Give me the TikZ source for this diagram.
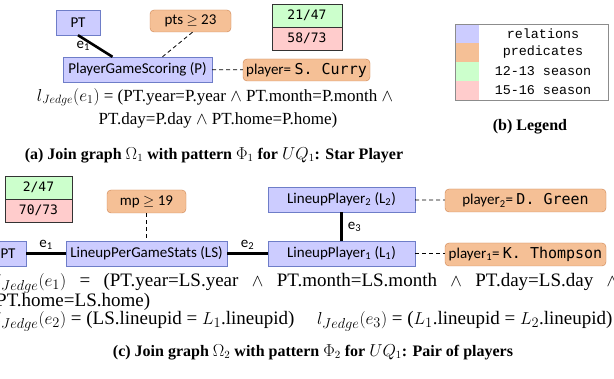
\documentclass[tikz,border=0pt]{standalone}
\usepackage{fontspec}
\setmainfont{Liberation Serif}
\setsansfont{Carlito}
\setmonofont{DejaVu Sans Mono}
\newfontfamily\legendfont{Liberation Mono}
\definecolor{relfill}{RGB}{204,204,255}
\definecolor{reldraw}{RGB}{110,125,200}
\definecolor{predfill}{RGB}{245,192,150}
\definecolor{preddraw}{RGB}{205,130,80}
\definecolor{goodfill}{RGB}{204,255,204}
\definecolor{badfill}{RGB}{255,204,204}
\tikzset{
  rel/.style={draw=reldraw,fill=relfill,minimum height=25,inner sep=1,
    font=\sffamily\fontsize{15}{17}\selectfont},
  pred/.style={draw=preddraw,fill=predfill,rounded corners=4,minimum height=22,inner sep=1,
    font=\sffamily\fontsize{15}{17}\selectfont},
  stat/.style={draw=black!80,minimum width=70,minimum height=23,inner sep=1,
    font=\ttfamily\fontsize{13}{15}\selectfont},
  joinedge/.style={line width=2.6},
  filteredge/.style={thick,dash pattern=on 4pt off 3pt},
  elabel/.style={font=\sffamily\fontsize{15}{17}\selectfont,inner sep=1},
  formula/.style={font=\fontsize{17}{20}\selectfont,inner sep=0},
  bigformula/.style={font=\fontsize{19}{22}\selectfont,inner sep=0,anchor=west},
  caption/.style={font=\bfseries\fontsize{16}{18}\selectfont,inner sep=0}
}
\begin{document}
\begin{tikzpicture}[x=1pt,y=-1pt]
\useasboundingbox (0,0) rectangle (614,379);
\clip (0,0) rectangle (614,379);

% (a) star player
\node[rel,minimum width=44] (pt) at (78,22.5) {PT};
\node[pred,minimum width=81] (pts) at (190.5,21) {pts $\geq$ 23};
\node[rel,minimum width=149] (p) at (137.5,69.5) {PlayerGameScoring (P)};
\node[pred,minimum width=127] (curry) at (306.5,70) {player= \texttt{S. Curry}};
\node[stat,fill=goodfill] (sa) at (307,15.5) {21/47};
\node[stat,fill=badfill] (sb) at (307,38.5) {58/73};

\draw[joinedge] (pt.south) -- node[elabel,left=3pt] {e\textsubscript{1}} ([xshift=-25pt]p.north);
\draw[filteredge] ([xshift=2pt]pts.south) -- ([xshift=25pt]p.north);
\draw[filteredge] (p) -- (curry);

\node[formula] (fa1) at (215,97) {$l_{Jedge}(e_1)$ = (PT.year=P.year $\wedge$ PT.month=P.month $\wedge$};
\node[formula] (fa2) at (218,120) {PT.day=P.day $\wedge$ PT.home=P.home)};
\node[caption] (capa) at (214,155) {(a) Join graph $\Omega_1$ with pattern $\Phi_1$ for $UQ_1$: Star Player};

% (b) legend
\node[draw=black!45,minimum width=153,minimum height=76,inner sep=0] (leg) at (531.5,62) {};
\foreach \c/\t [count=\i] in {relfill/relations,predfill/predicates,goodfill/12-13 season,badfill/15-16 season} {
  \fill[\c] (455.5,5+19*\i) rectangle (479,24+19*\i);
  \node[font=\legendfont\fontsize{13.4}{15}\selectfont,inner sep=0] (leg\i) at (543,14.5+19*\i) {\t};
}
\draw[black!45] (leg.north west) rectangle (leg.south east);
\node[caption] (capb) at (530,127) {(b) Legend};

% (c) pair of players
\node[stat,fill=goodfill,minimum width=67] (sc) at (38.5,187.5) {2/47};
\node[stat,fill=badfill,minimum width=67] (sd) at (38.5,210.5) {70/73};
\node[pred,minimum width=79,minimum height=23] (mp) at (146.5,201.5) {mp $\geq$ 19};
\node[rel,minimum width=36] (pt2) at (8,253.5) {PT};
\node[rel,minimum width=161] (ls) at (146.5,253.5) {LineupPerGameStats (LS)};
\node[rel,minimum width=147] (la) at (341.5,253.5) {LineupPlayer\textsubscript{1} (L\textsubscript{1})};
\node[rel,minimum width=147] (lb) at (341.5,199.5) {LineupPlayer\textsubscript{2} (L\textsubscript{2})};
\node[pred,minimum width=161,minimum height=23] (green) at (525.5,200.5) {player\textsubscript{2}= \texttt{D. Green}};
\node[pred,minimum width=161,minimum height=23] (thompson) at (525.5,254.5) {player\textsubscript{1}= \texttt{K. Thompson}};

\draw[joinedge] (pt2) -- node[elabel,above=2pt] {e\textsubscript{1}} (ls);
\draw[joinedge] (ls) -- node[elabel,above=2pt] {e\textsubscript{2}} (la);
\draw[joinedge] (lb) -- node[elabel,right=4pt] {e\textsubscript{3}} (la);
\draw[filteredge] (mp) -- (ls);
\draw[filteredge] (lb) -- (green);
\draw[filteredge] (la.east) -- (thompson.west |- la.east);

\node[bigformula] (fc1) at (-4,283) {\makebox[622pt][s]{$l_{Jedge}(e_1)$ = (PT.year=LS.year $\wedge$ PT.month=LS.month $\wedge$ PT.day=LS.day $\wedge$}};
\node[bigformula] (fc2) at (-4,302) {PT.home=LS.home)};
\node[bigformula] (fc3) at (-4,321) {$l_{Jedge}(e_2)$ = (LS.lineupid = $L_1$.lineupid)};
\node[bigformula] (fc4) at (317,321) {$l_{Jedge}(e_3)$ = ($L_1$.lineupid = $L_2$.lineupid)};
\node[caption] (capc) at (313,352) {(c) Join graph $\Omega_2$ with pattern $\Phi_2$ for $UQ_1$: Pair of players};
\end{tikzpicture}
\end{document}
